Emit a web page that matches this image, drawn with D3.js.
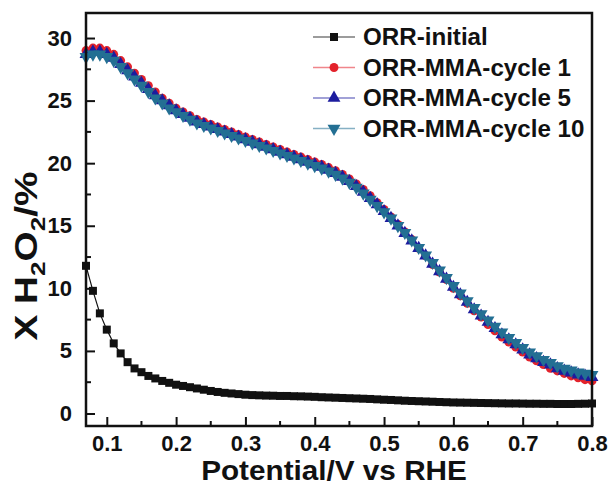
<!DOCTYPE html>
<html><head><meta charset="utf-8">
<script src="https://cdn.jsdelivr.net/npm/d3@7"></script>
<style>body{margin:0;background:#fff}svg{display:block}text{font-family:"Liberation Sans",Arial,sans-serif;font-weight:bold;fill:#111}</style>
</head><body><svg id="c" width="610" height="486"></svg>
<script>
const potential = [0.07,0.08,0.09,0.10,0.11,0.12,0.13,0.14,0.15,0.16,0.17,0.18,0.19,0.20,0.21,0.22,0.23,0.24,0.25,0.26,0.27,0.28,0.29,0.30,0.31,0.32,0.33,0.34,0.35,0.36,0.37,0.38,0.39,0.40,0.41,0.42,0.43,0.44,0.45,0.46,0.47,0.48,0.49,0.50,0.51,0.52,0.53,0.54,0.55,0.56,0.57,0.58,0.59,0.60,0.61,0.62,0.63,0.64,0.65,0.66,0.67,0.68,0.69,0.70,0.71,0.72,0.73,0.74,0.75,0.76,0.77,0.78,0.79,0.80];
const orrInitial = [11.8,9.8,8.0,6.7,5.6,4.8,4.1,3.6,3.3,3.0,2.8,2.6,2.45,2.3,2.2,2.1,2.0,1.9,1.8,1.72,1.65,1.6,1.55,1.5,1.47,1.45,1.43,1.42,1.4,1.4,1.38,1.37,1.35,1.33,1.3,1.28,1.26,1.24,1.22,1.2,1.18,1.16,1.13,1.1,1.08,1.05,1.02,1.0,0.98,0.96,0.94,0.92,0.9,0.88,0.87,0.86,0.85,0.84,0.83,0.82,0.81,0.8,0.8,0.79,0.78,0.78,0.77,0.77,0.76,0.76,0.76,0.77,0.78,0.8];
const cycle1 = [29.0,29.2,29.2,29.0,28.7,28.2,27.7,27.2,26.7,26.2,25.7,25.2,24.8,24.4,24.1,23.8,23.5,23.3,23.1,22.9,22.7,22.5,22.3,22.1,21.9,21.7,21.5,21.3,21.1,20.9,20.7,20.5,20.3,20.1,19.9,19.65,19.4,19.1,18.75,18.35,17.9,17.4,16.85,16.3,15.7,15.1,14.5,13.9,13.2,12.6,11.9,11.3,10.7,10.0,9.4,8.8,8.2,7.7,7.1,6.6,6.1,5.7,5.3,4.9,4.5,4.2,3.9,3.6,3.4,3.2,3.0,2.85,2.7,2.6];
const cycle5 = [28.7,28.9,28.9,28.7,28.4,27.9,27.4,26.9,26.4,25.9,25.4,25.0,24.6,24.2,23.9,23.6,23.3,23.1,22.9,22.7,22.5,22.3,22.1,21.9,21.7,21.5,21.3,21.1,20.9,20.7,20.5,20.3,20.1,19.9,19.7,19.45,19.2,18.9,18.55,18.15,17.7,17.2,16.7,16.15,15.6,15.0,14.4,13.8,13.2,12.6,11.95,11.35,10.75,10.1,9.5,8.9,8.3,7.8,7.3,6.8,6.3,5.9,5.5,5.1,4.7,4.4,4.1,3.9,3.6,3.4,3.25,3.1,3.0,2.9];
const cycle10 = [28.5,28.7,28.7,28.5,28.2,27.7,27.2,26.7,26.2,25.7,25.2,24.8,24.4,24.1,23.8,23.5,23.2,23.0,22.8,22.6,22.4,22.2,22.0,21.8,21.6,21.4,21.2,21.0,20.8,20.6,20.4,20.2,20.0,19.8,19.6,19.35,19.1,18.8,18.45,18.05,17.6,17.1,16.6,16.1,15.6,15.0,14.45,13.85,13.25,12.65,12.05,11.45,10.85,10.2,9.6,9.0,8.45,7.95,7.45,6.95,6.5,6.05,5.65,5.25,4.9,4.6,4.3,4.05,3.8,3.6,3.45,3.3,3.2,3.1];
const seriesNames = ["ORR-initial","ORR-MMA-cycle 1","ORR-MMA-cycle 5","ORR-MMA-cycle 10"];
const seriesColors = ["#111111","#e3222b","#1c1c9e","#236f93"];
const seriesSymbols = [d3.symbolSquare, d3.symbolCircle, d3.symbolTriangle, "down"];
const seriesValues = [orrInitial, cycle1, cycle5, cycle10];
const xTicks = [0.1,0.2,0.3,0.4,0.5,0.6,0.7,0.8];
const yTicks = [0,5,10,15,20,25,30];

const svg = d3.select("#c");
const L=86,R=592,T=13,B=426;
const x = d3.scaleLinear().domain([0.07,0.8]).range([L,R]);
const y = d3.scaleLinear().domain([-1,32]).range([B,T]);

function marker(g, sym, color, size){
  if(sym==="down"){
    g.append("path").attr("d", d3.symbol().type(d3.symbolTriangle).size(size)()).attr("transform","rotate(180)").attr("fill",color);
  } else {
    g.append("path").attr("d", d3.symbol().type(sym).size(size)()).attr("fill",color);
  }
}

const sizes=[64,62,72,72];
seriesValues.forEach((vals,i)=>{
  const data = potential.map((p,j)=>[p,vals[j]]);
  svg.append("path").datum(data).attr("fill","none").attr("stroke",seriesColors[i]).attr("stroke-width",1.2)
    .attr("d", d3.line().x(d=>x(d[0])).y(d=>y(d[1])));
  const g = svg.append("g");
  data.forEach(d=>{
    const m = g.append("g").attr("transform",`translate(${x(d[0])},${y(d[1])})`);
    marker(m, seriesSymbols[i], seriesColors[i], sizes[i]);
  });
});

// frame
svg.append("rect").attr("x",L).attr("y",T).attr("width",R-L).attr("height",B-T).attr("fill","none").attr("stroke","#111").attr("stroke-width",2.5);

// axes with inward ticks
const xAx = d3.axisBottom(x).tickValues(xTicks).tickSize(-9).tickPadding(9).tickFormat(d3.format(".1f"));
const gx = svg.append("g").attr("transform",`translate(0,${B})`).call(xAx);
gx.select(".domain").remove();
gx.selectAll("line").attr("stroke","#111").attr("stroke-width",2);
gx.selectAll("text").style("font-size","22px").attr("fill","#111");
const xMinor = d3.range(0.15,0.8,0.1);
svg.append("g").selectAll("line").data(xMinor).join("line").attr("x1",d=>x(d)).attr("x2",d=>x(d)).attr("y1",B).attr("y2",B-5).attr("stroke","#111").attr("stroke-width",2);

const yAx = d3.axisLeft(y).tickValues(yTicks).tickSize(-9).tickPadding(14);
const gy = svg.append("g").attr("transform",`translate(${L},0)`).call(yAx);
gy.select(".domain").remove();
gy.selectAll("line").attr("stroke","#111").attr("stroke-width",2);
gy.selectAll("text").style("font-size","22px").attr("fill","#111");
const yMinor = [2.5,7.5,12.5,17.5,22.5,27.5];
svg.append("g").selectAll("line").data(yMinor).join("line").attr("x1",L).attr("x2",L+5).attr("y1",d=>y(d)).attr("y2",d=>y(d)).attr("stroke","#111").attr("stroke-width",2);

// titles
svg.append("text").attr("transform","translate(334,480) scale(1.1,1)").attr("text-anchor","middle").style("font-size","27px").text("Potential/V vs RHE");
const yt = svg.append("text").attr("transform","translate(37,256) rotate(-90) scale(1.25,1)").attr("text-anchor","middle").style("font-size","31px");
yt.append("tspan").text("X H");
yt.append("tspan").attr("dy",8).style("font-size","21px").text("2");
yt.append("tspan").attr("dy",-8).text("O");
yt.append("tspan").attr("dy",8).style("font-size","21px").text("2");
yt.append("tspan").attr("dy",-8).text("/%");

// legend
const lg = svg.append("g");
seriesNames.forEach((n,i)=>{
  const cy = 37 + i*30.5;
  lg.append("line").attr("x1",313).attr("x2",355).attr("y1",cy).attr("y2",cy).attr("stroke",seriesColors[i]).attr("stroke-opacity",0.55).attr("stroke-width",1.5);
  const m = lg.append("g").attr("transform",`translate(334,${cy})`);
  marker(m, seriesSymbols[i], seriesColors[i], sizes[i]);
  lg.append("text").attr("transform",`translate(363,${cy}) scale(1.05,1)`).attr("dy","0.36em").style("font-size","23px").text(n);
});
</script></body></html>
